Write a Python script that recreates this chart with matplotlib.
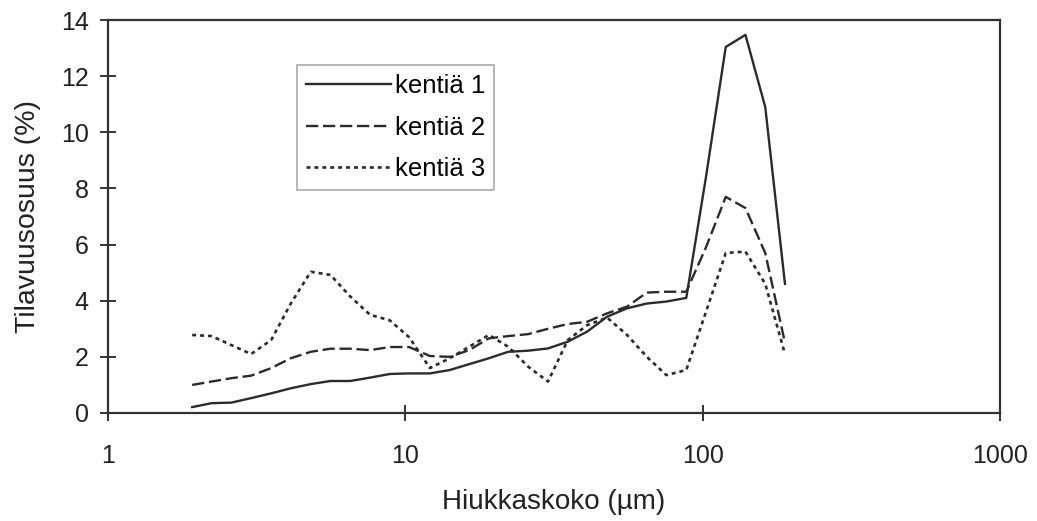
import numpy as np
import matplotlib
matplotlib.use("Agg")
import matplotlib.pyplot as plt
from matplotlib.ticker import FixedLocator, FixedFormatter, NullLocator

# particle size classes (um)
size_um = [1.92, 2.23, 2.60, 3.03, 3.54, 4.12, 4.81, 5.60, 6.53, 7.61, 8.87,
           10.3, 12.1, 14.1, 16.4, 19.1, 22.2, 25.9, 30.2, 35.2, 40.9,
           47.7, 55.7, 64.9, 75.5, 88.1, 102.6, 119.6, 139.3, 162.4, 189.2]

kentta1 = [0.21, 0.35, 0.37, 0.53, 0.70, 0.88, 1.03, 1.14, 1.14, 1.26, 1.39,
           1.41, 1.41, 1.53, 1.74, 1.95, 2.18, 2.22, 2.30, 2.54, 2.90,
           3.43, 3.73, 3.90, 3.97, 4.10, 8.40, 13.04, 13.47, 10.90, 4.60]

kentta2 = [1.00, 1.12, 1.24, 1.33, 1.60, 1.95, 2.18, 2.29, 2.29, 2.24, 2.35,
           2.35, 2.03, 2.00, 2.24, 2.66, 2.74, 2.81, 3.00, 3.17, 3.25,
           3.55, 3.79, 4.29, 4.32, 4.32, 5.90, 7.70, 7.30, 5.70, 2.50]

kentta3 = [2.78, 2.74, 2.42, 2.10, 2.60, 3.90, 5.03, 4.92, 4.15, 3.50, 3.30,
           2.70, 1.60, 1.95, 2.36, 2.78, 2.36, 1.65, 1.12, 2.60, 3.13,
           3.40, 2.78, 2.00, 1.35, 1.53, 3.60, 5.70, 5.75, 4.60, 2.10]

series_labels = ["kentiä 1", "kentiä 2", "kentiä 3"]
x_ticks = [1, 10, 100, 1000]
y_ticks = [0, 2, 4, 6, 8, 10, 12, 14]

plt.rcParams["font.family"] = ["Liberation Sans", "DejaVu Sans"]

fig = plt.figure(figsize=(10.37, 5.21), dpi=100)
ax = fig.add_axes([0.1041, 0.2073, 0.8602, 0.7543])

col = "#2b2b2b"
ax.plot(size_um, kentta1, color=col, lw=1.7, linestyle="-", label=series_labels[0])
ax.plot(size_um, kentta2, color=col, lw=1.7, linestyle=(0, (5.2, 2)), label=series_labels[1])
ax.plot(size_um, kentta3, color=col, lw=1.9, linestyle=(0, (1.5, 1.5)), label=series_labels[2])

ax.set_xscale("log")
ax.set_xlim(1, 1000)
ax.set_ylim(0, 14)
ax.xaxis.set_major_locator(FixedLocator(x_ticks))
ax.xaxis.set_major_formatter(FixedFormatter([str(t) for t in x_ticks]))
ax.xaxis.set_minor_locator(NullLocator())
ax.set_yticks(y_ticks)

for s in ax.spines.values():
    s.set_color("#333333")
    s.set_linewidth(1.6)

ax.tick_params(axis="both", direction="inout", length=12, width=1.4,
               color="#333333", labelsize=18, labelcolor="#222222")
ax.tick_params(axis="x", pad=16)
ax.tick_params(axis="y", pad=8)

ax.set_xlabel("Hiukkaskoko (µm)", fontsize=20, color="#222222", va="center")
ax.set_ylabel("Tilavuusosuus (%)", fontsize=20.5, color="#222222", va="center")
ax.xaxis.set_label_coords(0.5, -0.2265)
ax.yaxis.set_label_coords(-0.0891, 0.5)

leg = ax.legend(loc="upper left", bbox_to_anchor=(0.212, 0.8855), borderaxespad=0,
                fontsize=18.5, handlelength=3.3, handletextpad=0.15, borderpad=0.36,
                labelspacing=0.68, fancybox=False, shadow=False,
                edgecolor="#aaaaaa", framealpha=1)
leg.get_frame().set_linewidth(1.2)

fig.savefig("out.png", dpi=100)
